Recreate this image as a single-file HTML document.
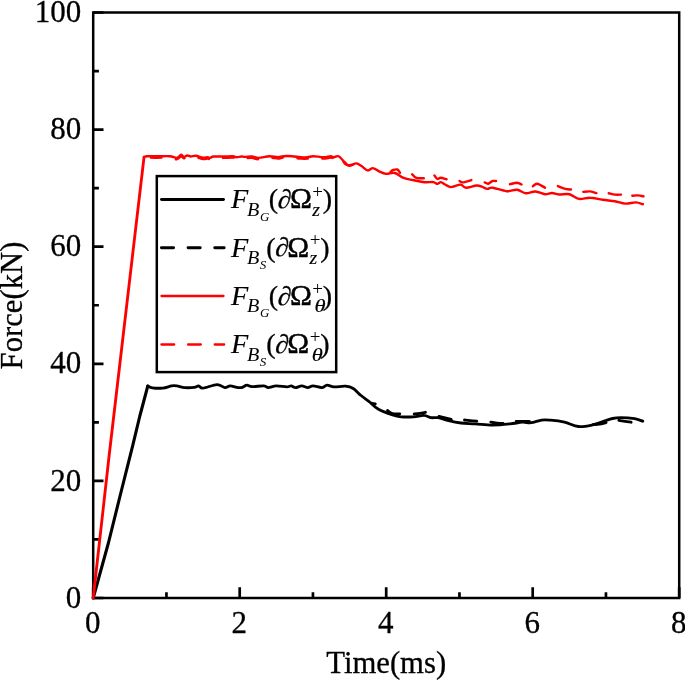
<!DOCTYPE html>
<html lang="en"><head><meta charset="utf-8"><title>Force vs Time</title>
<style>html,body{margin:0;padding:0;background:#fff}svg{display:block}text{font-family:"Liberation Serif","Times New Roman",serif;fill:#000;stroke:#000;stroke-width:0.3px}.s0{stroke-width:0}.s1{stroke-width:0.15px}.s2{stroke-width:0.45px}</style>
</head><body>
<svg width="685" height="680" viewBox="0 0 685 680">
<rect width="685" height="680" fill="#fff"/>
<rect x="93.2" y="12.5" width="586.0" height="585.5" fill="none" stroke="#000" stroke-width="2.5"/>
<path d="M93.20 598.0v-10.8M166.45 598.0v-5.7M239.70 598.0v-10.8M312.95 598.0v-5.7M386.20 598.0v-10.8M459.45 598.0v-5.7M532.70 598.0v-10.8M605.95 598.0v-5.7M679.20 598.0v-10.8M93.2 598.00h10.3M93.2 539.45h5.7M93.2 480.90h10.3M93.2 422.35h5.7M93.2 363.80h10.3M93.2 305.25h5.7M93.2 246.70h10.3M93.2 188.15h5.7M93.2 129.60h10.3M93.2 71.05h5.7M93.2 12.50h10.3" fill="none" stroke="#000" stroke-width="2.7"/>
<g fill="none" stroke-linejoin="round" stroke-linecap="round">
<polyline stroke="#000" stroke-width="3.1" points="93.2,598.0 108.4,543.0 120.3,495.0 132.7,445.6 139.7,416.5 147.8,386.0"/>
<path stroke="#000" stroke-width="2.85" d="M147.8 386.0C148.6 386.3 149.8 387.4 152.3 387.8C154.8 388.2 159.6 388.4 162.8 388.1C166.0 387.8 169.2 386.3 171.5 385.9C173.8 385.5 174.6 385.6 176.8 385.9C179.0 386.2 181.8 387.4 184.7 387.6C187.6 387.8 192.0 387.6 194.3 387.3C196.6 387.0 197.2 385.8 198.7 385.9C200.1 386.0 199.9 388.3 203.0 388.1C206.1 387.9 213.3 384.7 217.0 384.6C220.7 384.5 222.8 387.4 225.0 387.6C227.2 387.8 228.0 385.9 230.2 385.9C232.4 385.9 236.0 387.4 238.1 387.6C240.2 387.8 241.0 387.7 242.5 387.3C244.0 386.9 245.3 385.3 246.9 385.2C248.5 385.1 249.2 386.5 252.1 386.6C254.9 386.7 261.3 385.7 264.0 385.9C266.7 386.1 266.3 387.6 268.4 387.6C270.4 387.6 273.2 386.0 276.3 385.9C279.4 385.8 284.3 386.9 286.8 386.9C289.3 386.9 289.8 385.8 291.2 385.9C292.6 386.0 293.8 387.6 295.5 387.6C297.2 387.6 299.6 385.9 301.7 385.9C303.8 385.9 305.9 387.6 307.8 387.6C309.7 387.6 310.7 385.9 313.0 385.9C315.3 385.9 319.5 387.7 321.8 387.6C324.1 387.5 325.0 385.3 327.0 385.2C329.0 385.1 330.9 386.7 334.0 386.9C337.1 387.1 342.3 385.9 345.5 386.2C348.7 386.5 350.6 386.9 353.2 388.5C355.8 390.1 358.2 393.2 361.0 395.5C363.8 397.8 367.3 400.2 370.2 402.5C373.1 404.8 374.4 406.9 378.1 409.0C381.8 411.1 388.7 413.7 392.6 415.0C396.5 416.3 397.8 416.5 401.3 416.8C404.8 417.1 409.8 417.0 413.6 416.8C417.4 416.6 421.2 415.2 424.1 415.4C427.0 415.5 428.8 417.3 431.1 417.7C433.4 418.1 435.2 417.2 438.1 417.7C441.0 418.2 444.8 419.7 448.6 420.6C452.4 421.5 456.6 422.4 461.0 423.0C465.4 423.6 469.7 423.5 475.0 423.9C480.3 424.2 486.8 425.1 492.6 425.1C498.4 425.1 505.1 424.4 510.0 423.9C515.0 423.4 518.8 422.4 522.3 422.2C525.8 422.0 527.8 423.0 531.0 422.7C534.2 422.4 538.4 420.5 541.6 420.1C544.9 419.7 546.7 419.9 550.5 420.2C554.3 420.5 559.8 421.1 564.5 422.2C569.2 423.2 573.8 426.1 578.5 426.5C583.2 426.9 588.2 425.8 592.6 424.9C597.0 424.0 601.5 422.0 604.8 420.9C608.1 419.8 609.8 419.1 612.5 418.5C615.2 417.9 617.3 417.6 621.0 417.6C624.7 417.6 631.0 418.1 634.6 418.7C638.2 419.3 641.4 420.8 642.8 421.2"/>
<path stroke="#000" stroke-width="2.85" d="M371.5 403.3C372.1 403.4 374.7 403.8 375.3 403.9M387.5 410.6C388.4 411.1 390.6 413.1 392.6 413.6C394.7 414.1 398.6 413.8 399.8 413.8M414.2 414.0C415.2 413.9 418.1 413.6 420.0 413.3C421.9 413.0 424.5 412.5 425.4 412.3M439.0 416.4C441.0 416.9 449.2 418.9 451.2 419.4M464.5 420.0C465.4 420.1 467.9 420.4 470.0 420.6C472.1 420.8 475.7 421.1 476.8 421.2M490.8 422.2C491.8 422.4 495.0 423.0 497.0 423.2C499.0 423.4 502.0 423.3 503.0 423.3M516.2 421.3C518.4 421.3 527.1 421.3 529.3 421.3M593.0 424.6C594.1 424.5 597.3 424.3 599.5 424.0C601.7 423.7 604.9 422.8 606.0 422.6M618.8 420.4C620.8 420.7 629.0 421.9 631.1 422.2"/>
<polyline stroke="#f00" stroke-width="2.85" points="93.2,598.0 109.2,455.0 144.0,157.3"/>
<path stroke="#f00" stroke-width="2.4" d="M144.0 156.9C144.5 156.8 144.8 156.3 147.0 156.2C149.2 156.1 153.7 156.3 157.5 156.3C161.3 156.3 166.6 155.9 169.8 156.2C173.0 156.5 174.9 158.1 176.8 157.9C178.7 157.7 180.0 155.0 181.2 154.8C182.4 154.6 182.8 156.8 183.8 156.9C184.8 157.0 186.1 155.6 187.3 155.5C188.5 155.4 189.4 156.4 190.8 156.5C192.2 156.6 194.0 155.6 196.0 155.8C198.0 156.0 201.1 157.5 203.0 157.7C204.9 157.9 206.3 157.2 207.5 157.2C208.7 157.2 209.0 158.0 210.0 157.9C211.0 157.8 211.3 156.7 213.6 156.5C215.9 156.3 220.8 156.6 224.0 156.5C227.2 156.4 230.8 156.1 232.9 156.2C235.0 156.3 235.0 157.1 236.4 157.2C237.8 157.2 240.2 156.6 241.6 156.5C243.0 156.4 243.3 156.9 245.0 156.9C246.7 156.9 249.7 156.3 252.0 156.5C254.3 156.7 255.9 158.0 258.8 157.9C261.7 157.8 266.1 156.3 269.3 156.2C272.5 156.1 275.7 157.2 278.0 157.2C280.3 157.2 281.0 156.4 283.3 156.2C285.6 156.0 289.1 156.0 292.0 156.2C294.9 156.4 298.2 157.0 300.8 157.2C303.4 157.4 305.8 157.4 307.8 157.2C309.8 157.0 310.4 156.2 313.0 156.2C315.6 156.2 320.7 157.2 323.6 157.2C326.5 157.2 328.9 156.2 330.6 156.2C332.3 156.2 332.7 157.2 334.0 157.2C335.3 157.2 336.8 155.4 338.6 156.3C340.4 157.2 343.1 160.9 344.9 162.5C346.7 164.1 347.4 165.5 349.3 165.7C351.2 165.8 354.3 163.3 356.3 163.4C358.3 163.5 359.6 164.8 361.5 166.0C363.4 167.2 365.8 170.1 367.7 170.4C369.6 170.8 371.0 167.9 372.9 168.1C374.8 168.2 376.8 170.3 379.0 171.3C381.2 172.3 383.4 173.6 386.0 173.9C388.6 174.2 391.9 172.3 394.8 173.0C397.7 173.7 400.4 176.7 403.6 177.9C406.8 179.1 410.5 179.6 414.0 180.3C417.5 181.0 421.4 181.9 424.6 182.2C427.8 182.5 431.3 181.8 433.4 182.1C435.5 182.4 436.1 183.9 437.4 183.9C438.6 183.9 439.6 182.0 440.9 182.1C442.2 182.2 443.3 183.7 445.0 184.5C446.7 185.3 448.8 187.0 450.9 187.1C453.0 187.2 456.1 185.5 457.9 185.1C459.6 184.7 460.0 184.4 461.4 184.8C462.8 185.2 463.6 187.7 466.1 187.8C468.6 187.9 473.9 185.7 476.6 185.5C479.3 185.3 480.6 186.3 482.4 186.9C484.2 187.5 485.6 188.8 487.3 188.9C489.0 189.0 489.4 187.3 492.6 187.7C495.8 188.1 502.5 190.8 506.6 191.2C510.7 191.5 513.8 189.5 517.0 189.8C520.2 190.2 522.7 193.0 525.8 193.3C528.9 193.6 532.3 191.3 535.5 191.5C538.7 191.7 542.2 193.9 545.0 194.2C547.8 194.4 549.7 192.9 552.0 193.0C554.3 193.1 555.9 194.3 558.8 194.5C561.7 194.7 565.9 193.5 569.3 194.2C572.6 194.9 575.4 198.3 578.9 198.9C582.4 199.5 586.3 197.5 590.3 197.7C594.2 197.8 598.5 199.2 602.6 199.8C606.7 200.4 611.0 200.6 614.8 201.2C618.6 201.8 621.8 203.4 625.3 203.6C628.8 203.8 632.9 202.3 635.8 202.4C638.7 202.5 641.7 203.9 642.9 204.2"/>
<path stroke="#f00" stroke-width="2.4" stroke-dasharray="10.6 14.4" stroke-dashoffset="-4" d="M147.0 157.6C148.8 157.6 153.7 157.7 157.5 157.7C161.3 157.7 166.6 157.3 169.8 157.6C173.0 157.9 174.9 159.5 176.8 159.3C178.7 159.1 180.0 156.4 181.2 156.2C182.4 156.0 182.8 158.2 183.8 158.3C184.8 158.4 186.1 157.0 187.3 156.9C188.5 156.8 189.4 157.9 190.8 157.9C192.2 157.9 194.0 157.0 196.0 157.2C198.0 157.4 201.1 158.9 203.0 159.1C204.9 159.3 206.3 158.6 207.5 158.6C208.7 158.6 209.0 159.4 210.0 159.3C211.0 159.2 211.3 158.1 213.6 157.9C215.9 157.7 220.8 158.0 224.0 157.9C227.2 157.8 230.8 157.5 232.9 157.6C235.0 157.7 235.0 158.5 236.4 158.6C237.8 158.7 240.2 157.9 241.6 157.9C243.0 157.9 243.3 158.3 245.0 158.3C246.7 158.3 249.7 157.7 252.0 157.9C254.3 158.1 255.9 159.4 258.8 159.3C261.7 159.2 266.1 157.7 269.3 157.6C272.5 157.5 275.7 158.6 278.0 158.6C280.3 158.6 281.0 157.8 283.3 157.6C285.6 157.4 289.1 157.4 292.0 157.6C294.9 157.8 298.2 158.4 300.8 158.6C303.4 158.8 305.8 158.8 307.8 158.6C309.8 158.4 310.4 157.6 313.0 157.6C315.6 157.6 320.7 158.6 323.6 158.6C326.5 158.6 328.9 157.6 330.6 157.6C332.3 157.6 333.4 158.4 334.0 158.6"/>
<path stroke="#f00" stroke-width="2.4" d="M343.5 161.8C343.9 162.2 345.0 163.9 346.0 164.5C347.0 165.1 348.3 165.2 349.5 165.2C350.7 165.2 352.4 164.7 353.0 164.6M390.4 172.2C390.8 171.8 391.9 170.4 393.1 170.0C394.3 169.6 396.2 169.1 397.4 169.5C398.5 169.9 399.6 172.2 400.0 172.7M412.2 174.3C412.8 174.9 414.4 176.9 415.5 177.6C416.6 178.3 417.6 178.2 419.0 178.3C420.4 178.4 423.0 178.2 423.8 178.2M434.5 175.5C435.0 176.1 436.4 178.6 437.4 179.0C438.4 179.4 439.1 177.8 440.6 177.8C442.1 177.8 445.5 179.0 446.5 179.2M459.6 181.0C460.1 181.2 460.9 182.6 462.8 182.4C464.8 182.2 469.9 180.5 471.3 180.1M484.7 182.4C485.3 182.6 486.9 183.9 488.2 183.7C489.5 183.5 491.3 181.4 492.6 181.0C493.9 180.6 495.4 181.0 496.0 181.0M510.0 184.2C511.2 184.0 515.1 182.8 517.0 182.8C518.9 182.9 520.8 184.2 521.5 184.5M532.9 186.3C533.6 185.9 535.2 183.5 537.2 183.7C539.2 183.9 543.7 187.0 545.0 187.7M557.9 186.1C559.1 186.6 563.1 188.2 565.3 188.8C567.5 189.4 570.0 189.4 571.0 189.5M583.3 191.9C584.5 191.8 588.1 191.2 590.3 191.4C592.5 191.6 595.4 192.8 596.4 193.1M608.7 193.2C609.8 193.4 613.0 194.4 615.0 194.6C617.0 194.8 620.0 194.6 621.0 194.6M632.3 195.7C633.2 195.6 636.1 195.3 638.0 195.4C639.9 195.5 642.6 196.2 643.5 196.4"/>
</g>
<g font-size="31" text-anchor="end">
<text x="81.3" y="607.6">0</text>
<text x="81.3" y="490.5">20</text>
<text x="81.3" y="373.4">40</text>
<text x="81.3" y="256.3">60</text>
<text x="81.3" y="139.2">80</text>
<text x="81.3" y="22.1">100</text>
</g>
<g font-size="31" text-anchor="middle">
<text x="92.7" y="633">0</text>
<text x="239.2" y="633">2</text>
<text x="385.7" y="633">4</text>
<text x="532.2" y="633">6</text>
<text x="678.7" y="633">8</text>
</g>
<text x="386.2" y="673.3" font-size="30.7" text-anchor="middle">Time(ms)</text>
<text transform="translate(22 305.5) rotate(-90)" font-size="30.7" text-anchor="middle">Force(kN)</text>
<rect x="156.8" y="176.1" width="179.4" height="196.0" fill="#fff" stroke="#000" stroke-width="2.5"/>
<path d="M161.5 199.5H223.5" stroke="#000" stroke-width="2.9" stroke-linecap="round" fill="none"/>
<text font-size="28"><tspan x="230.9" y="208.2" class="s1" font-style="italic" font-size="28.3">F</tspan><tspan x="260" y="220.5" class="s0" font-style="italic" font-size="13">G</tspan><tspan x="268.80" y="208.2">(</tspan><tspan x="290.00" y="208.2" class="s2" font-size="29.5">Ω</tspan><tspan x="312.30" y="197.9" class="s0" font-size="19">+</tspan><tspan x="322.80" y="208.2">)</tspan></text>
<text transform="translate(247.1 215.7) scale(1.12 1)" class="s0" font-size="18" font-style="italic">B</text>
<text transform="translate(312.20 215.6) scale(1.1 1)" class="s1" font-size="18" font-style="italic">z</text>
<text transform="translate(277.30 208.0) skewX(-6)" font-size="26.5">∂</text>
<path d="M161.4 247.8H224.2" stroke="#000" stroke-width="2.9" stroke-linecap="round" stroke-dasharray="12.20 14.45" fill="none"/>
<text font-size="28"><tspan x="230.9" y="256.6" class="s1" font-style="italic" font-size="28.3">F</tspan><tspan x="259.7" y="268.9" class="s0" font-style="italic" font-size="13">S</tspan><tspan x="266.13" y="256.6">(</tspan><tspan x="287.33" y="256.6" class="s2" font-size="29.5">Ω</tspan><tspan x="309.63" y="246.3" class="s0" font-size="19">+</tspan><tspan x="320.13" y="256.6">)</tspan></text>
<text transform="translate(247.1 264.1) scale(1.12 1)" class="s0" font-size="18" font-style="italic">B</text>
<text transform="translate(309.53 264.0) scale(1.1 1)" class="s1" font-size="18" font-style="italic">z</text>
<text transform="translate(274.63 256.4) skewX(-6)" font-size="26.5">∂</text>
<path d="M161.5 296.0H223.5" stroke="#f00" stroke-width="2.3" stroke-linecap="round" fill="none"/>
<text font-size="28"><tspan x="230.9" y="304.8" class="s1" font-style="italic" font-size="28.3">F</tspan><tspan x="260" y="317.1" class="s0" font-style="italic" font-size="13">G</tspan><tspan x="268.80" y="304.8">(</tspan><tspan x="290.00" y="304.8" class="s2" font-size="29.5">Ω</tspan><tspan x="312.30" y="294.5" class="s0" font-size="19">+</tspan><tspan x="322.80" y="304.8">)</tspan></text>
<text transform="translate(247.1 312.3) scale(1.12 1)" class="s0" font-size="18" font-style="italic">B</text>
<text transform="translate(314.40 312.2) scale(1.25 1)" class="s1" font-size="18" font-style="italic">θ</text>
<text transform="translate(277.30 304.6) skewX(-6)" font-size="26.5">∂</text>
<path d="M161.4 344.5H224.2" stroke="#f00" stroke-width="2.3" stroke-linecap="round" stroke-dasharray="12.80 13.85" fill="none"/>
<text font-size="28"><tspan x="230.9" y="353.3" class="s1" font-style="italic" font-size="28.3">F</tspan><tspan x="259.7" y="365.6" class="s0" font-style="italic" font-size="13">S</tspan><tspan x="266.13" y="353.3">(</tspan><tspan x="287.33" y="353.3" class="s2" font-size="29.5">Ω</tspan><tspan x="309.63" y="343.0" class="s0" font-size="19">+</tspan><tspan x="320.13" y="353.3">)</tspan></text>
<text transform="translate(247.1 360.8) scale(1.12 1)" class="s0" font-size="18" font-style="italic">B</text>
<text transform="translate(311.73 360.7) scale(1.25 1)" class="s1" font-size="18" font-style="italic">θ</text>
<text transform="translate(274.63 353.1) skewX(-6)" font-size="26.5">∂</text>
</svg>
</body></html>
